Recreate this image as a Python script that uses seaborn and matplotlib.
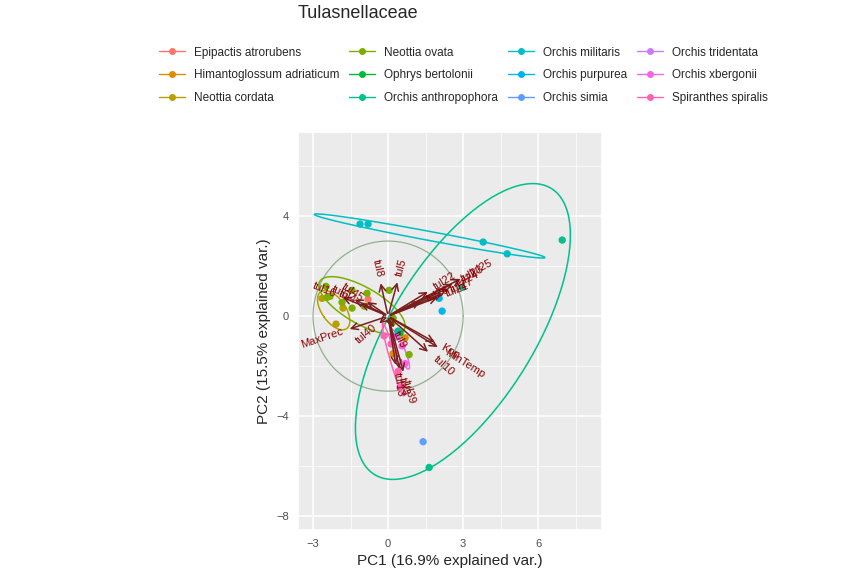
import numpy as np
import pandas as pd
import matplotlib
matplotlib.use("Agg")
import matplotlib.pyplot as plt
import seaborn as sns
from matplotlib.lines import Line2D

species = ["Epipactis atrorubens", "Himantoglossum adriaticum", "Neottia cordata",
           "Neottia ovata", "Ophrys bertolonii", "Orchis anthropophora",
           "Orchis militaris", "Orchis purpurea", "Orchis simia",
           "Orchis tridentata", "Orchis xbergonii", "Spiranthes spiralis"]
colors = ["#F8766D", "#DE8C00", "#B79F00", "#7CAE00", "#00BA38", "#00C08B",
          "#00BFC4", "#00B4F0", "#619CFF", "#C77CFF", "#F564E3", "#FF64B0"]

# sample scores (PC1, PC2) per species
pc1 = {
    "Epipactis atrorubens": [-0.8],
    "Himantoglossum adriaticum": [0.68, 0.2],
    "Neottia cordata": [-2.64, -1.8, -2.08],
    "Neottia ovata": [-2.48, -2.44, -1.44, -0.84, -0.96, -1.44, -2.32, 0.04, 0.2, 0.16, 0.84, -1.84],
    "Ophrys bertolonii": [0.48],
    "Orchis anthropophora": [6.96, 1.64, 2.96, 0.4],
    "Orchis militaris": [-1.12, -0.8, 3.8, 4.76],
    "Orchis purpurea": [2.04, 2.16],
    "Orchis simia": [1.4, 0.2],
    "Orchis tridentata": [0.32],
    "Orchis xbergonii": [0.2, 0.56, 0.68],
    "Spiranthes spiralis": [-0.16, 0.12, 0.4, 0.48],
}
pc2 = {
    "Epipactis atrorubens": [0.67],
    "Himantoglossum adriaticum": [-0.87, -1.5],
    "Neottia cordata": [0.71, 0.32, -0.32],
    "Neottia ovata": [1.19, 0.75, 1.03, 0.91, 0.4, 0.32, 0.79, 1.03, -0.08, -0.28, -1.54, 0.55],
    "Ophrys bertolonii": [-0.67],
    "Orchis anthropophora": [3.04, -6.05, 1.15, -0.6],
    "Orchis militaris": [3.68, 3.68, 2.96, 2.49],
    "Orchis purpurea": [0.71, 0.2],
    "Orchis simia": [-5.02, -0.8],
    "Orchis tridentata": [-0.83],
    "Orchis xbergonii": [-0.87, -1.19, -1.9],
    "Spiranthes spiralis": [-0.79, -1.11, -2.21, -2.85],
}

var_names = ["tul8", "tul5", "tul25", "tul23", "tul24", "tul27", "tul21", "tul22", "tul26",
             "MaxPrec", "tul4", "tul6", "tul45", "tul16", "Kop", "MinTemp", "tul10",
             "tul3", "tul39", "tul13", "tul40", "tul9"]
var_x = [-0.32, 0.4, 3.0, 2.68, 2.48, 2.28, 2.08, 1.68, 1.4,
         -1.64, -1.2, -1.44, -0.92, -1.92, 1.96, 2.08, 1.68,
         0.48, 0.64, 0.32, -0.44, 0.28]
var_y = [1.42, 1.46, 1.54, 1.34, 1.15, 0.95, 0.79, 1.03, 0.63,
         -0.55, 0.55, 0.71, 0.63, 0.79, -1.1, -1.3, -1.5,
         -2.21, -2.33, -2.05, -0.36, -0.55]

rows = [(s, x, y) for s in species for x, y in zip(pc1[s], pc2[s])]
df = pd.DataFrame(rows, columns=["species", "PC1", "PC2"])

sns.set_theme(style="darkgrid", rc={"axes.facecolor": "#EBEBEB", "grid.color": "white"})
plt.rcParams["font.family"] = ["Liberation Sans", "DejaVu Sans"]

fig = plt.figure(figsize=(8.65, 5.78), dpi=100)
ax = fig.add_axes([298 / 865, 46 / 578, 304 / 865, 402 / 578])

# correlation circle
t = np.linspace(0, 2 * np.pi, 200)
ax.plot(3.0 * np.cos(t), 3.0 * np.sin(t), color="#8FB08F", lw=0.9, zorder=2)

# 68% normal ellipses per group
r = np.sqrt(-2 * np.log(1 - 0.68))
for s, c in zip(species, colors):
    g = df[df.species == s]
    if len(g) < 3:
        continue
    pts = g[["PC1", "PC2"]].to_numpy()
    mu = pts.mean(axis=0)
    cov = np.cov(pts.T)
    vals, vecs = np.linalg.eigh(cov)
    circ = np.vstack([np.cos(t), np.sin(t)])
    ell = (vecs @ np.diag(np.sqrt(np.maximum(vals, 0))) @ circ) * r
    ax.plot(ell[0] + mu[0], ell[1] + mu[1], color=c, lw=1.1, zorder=2)

sns.scatterplot(data=df, x="PC1", y="PC2", hue="species", hue_order=species,
                palette=colors, s=28, edgecolor="none", legend=False, ax=ax, zorder=3)

for name, vx, vy in zip(var_names, var_x, var_y):
    ax.annotate("", xy=(vx, vy), xytext=(0, 0),
                arrowprops=dict(arrowstyle="->", color="#7A1F1F", lw=1.1), zorder=4)
    ang = np.degrees(np.arctan2(vy, vx))
    if vx < 0:
        ang += 180
    ax.text(vx * 1.1, vy * 1.1, name, color="#8B0000", fontsize=8,
            rotation=ang, rotation_mode="anchor",
            ha="left" if vx > 0 else "right", va="center", zorder=5)

ax.set_xlim(-3.6, 8.55)
ax.set_ylim(-8.54, 7.35)
ax.set_aspect("equal", adjustable="box")
ax.set_xticks([-3, 0, 3, 6])
ax.set_yticks([4, 0, -4, -8])
ax.set_xticks([-1.5, 1.5, 4.5, 7.5], minor=True)
ax.set_yticks([6, 2, -2, -6], minor=True)
ax.grid(which="major", color="white", lw=1.1)
ax.grid(which="minor", color="white", lw=0.5)
ax.tick_params(labelsize=8, colors="#4D4D4D", length=3, which="major")
ax.tick_params(which="minor", length=0)
ax.set_xlabel("PC1 (16.9% explained var.)", fontsize=11)
ax.set_ylabel("PC2 (15.5% explained var.)", fontsize=11)

handles = [Line2D([0], [0], color=c, marker="o", markersize=4, lw=1) for c in colors]
fig.legend(handles, species, ncol=4, loc="upper left", bbox_to_anchor=(148 / 865, 1 - 36 / 578),
           frameon=False, fontsize=8.5, handlelength=2.2, columnspacing=0.8, labelspacing=0.9)
fig.text(298 / 865, 1 - 14 / 578, "Tulasnellaceae", fontsize=13, va="center")

fig.savefig("out.png", dpi=100)
